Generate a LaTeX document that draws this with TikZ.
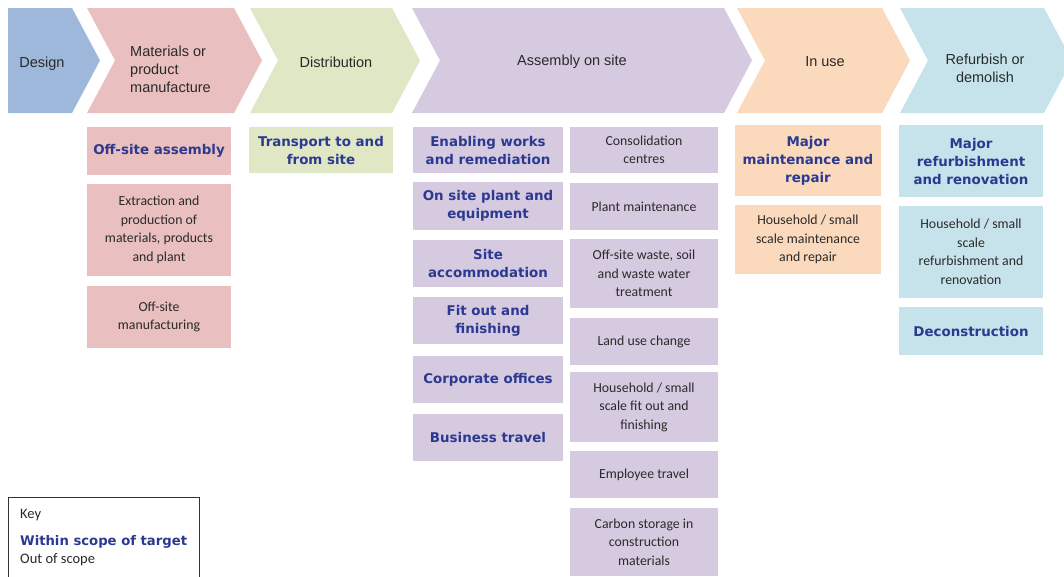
\documentclass[tikz,border=0pt]{standalone}
\usepackage{fontspec}
\setmainfont{Liberation Sans}
\newfontfamily\boldfont{DejaVu Sans}
\newfontfamily\gillfont{Carlito}
\definecolor{cBlue}{HTML}{9DB8DB}
\definecolor{cPink}{HTML}{EABFBF}
\definecolor{cGreen}{HTML}{DFE7C5}
\definecolor{cPurple}{HTML}{D6CAE1}
\definecolor{cOrange}{HTML}{FAD9BC}
\definecolor{cLight}{HTML}{C6E3EB}
\definecolor{tBlue}{HTML}{2B3990}
\definecolor{tGray}{HTML}{2A2A2A}
\tikzset{
  chevtext/.style={text=tGray, font=\fontsize{14.5}{18}\selectfont, inner sep=0pt},
  inbox/.style={align=center, inner sep=0pt, text=tBlue, font=\boldfont\bfseries\fontsize{13.4}{18}\selectfont},
  outbox/.style={align=center, inner sep=0pt, text=tGray, font=\gillfont\fontsize{13.8}{18.5}\selectfont},
}
% \bx{name}{cx}{cy}{w}{h}{fill}{kind}{text}
\newcommand{\bx}[8]{%
  \fill[#6] ({#2-#4/2},{#3-#5/2}) rectangle ({#2+#4/2},{#3+#5/2});
  \node[#7] (#1) at (#2,#3) {#8};}
\newcommand{\chev}[4]{% left, right-shoulder, tip x, colour
  \fill[#4] (#1,8) -- (#2,8) -- (#3,60.5) -- (#2,113) -- (#1,113) -- ({#1+28},60.5) -- cycle;}
\begin{document}
\begin{tikzpicture}[x=1pt,y=-1pt]
\useasboundingbox (0,0) rectangle (1064,576);
\clip (0,0) rectangle (1064,576);
\fill[white] (0,0) rectangle (1064,576);
% chevrons
\fill[cBlue] (8,8) -- (72,8) -- (100,60.5) -- (72,113) -- (8,113) -- cycle;
\chev{87}{234}{262}{cPink}
\chev{250}{392}{420}{cGreen}
\chev{412}{724}{752}{cPurple}
\chev{737}{882}{910}{cOrange}
\chev{900}{1044}{1072}{cLight}
\node[chevtext] (design) at (42,64) {Design};
\node[chevtext, anchor=west, align=left] (materials) at (130,69) {Materials or\\product\\manufacture};
\node[chevtext] (distribution) at (336,62) {Distribution};
\node[chevtext] (assembly) at (572,62) {Assembly on site};
\node[chevtext] (inuse) at (825,62) {In use};
\node[chevtext, align=center] (refurbish) at (985,68) {Refurbish or\\demolish};
% pink column
\bx{offsiteasm}{159}{151}{144}{48}{cPink}{inbox}{Off-site assembly}
\bx{extraction}{159}{230}{144}{92}{cPink}{outbox}{Extraction and\\production of\\materials, products\\and plant}
\bx{offsiteman}{159}{317}{144}{62}{cPink}{outbox}{Off-site\\manufacturing}
% green
\bx{transport}{321}{150}{144}{46}{cGreen}{inbox}{Transport to and\\from site}
% purple left
\bx{enabling}{488}{150}{150}{46}{cPurple}{inbox}{Enabling works\\and remediation}
\bx{onsite}{488}{206}{150}{48}{cPurple}{inbox}{On site plant and\\equipment}
\bx{siteacc}{488}{263.5}{150}{47}{cPurple}{inbox}{Site\\accommodation}
\bx{fitout}{488}{320.5}{150}{47}{cPurple}{inbox}{Fit out and\\finishing}
\bx{corporate}{488}{379.5}{150}{47}{cPurple}{inbox}{Corporate offices}
\bx{business}{488}{437.5}{150}{47}{cPurple}{inbox}{Business travel}
% purple right
\bx{consolidation}{644}{150}{148}{46}{cPurple}{outbox}{Consolidation\\centres}
\bx{plantmaint}{644}{206.5}{148}{47}{cPurple}{outbox}{Plant maintenance}
\bx{waste}{644}{273.5}{148}{69}{cPurple}{outbox}{Off-site waste, soil\\and waste water\\treatment}
\bx{landuse}{644}{341.5}{148}{47}{cPurple}{outbox}{Land use change}
\bx{hhfitout}{644}{407}{148}{70}{cPurple}{outbox}{Household / small\\scale fit out and\\finishing}
\bx{employee}{644}{474.5}{148}{47}{cPurple}{outbox}{Employee travel}
\bx{carbon}{644}{542}{148}{68}{cPurple}{outbox}{Carbon storage in\\construction\\materials}
% orange
\bx{majormaint}{808}{160.5}{146}{71}{cOrange}{inbox}{Major\\maintenance and\\repair}
\bx{hhmaint}{808}{239.5}{146}{69}{cOrange}{outbox}{Household / small\\scale maintenance\\and repair}
% light blue
\bx{majorrefurb}{971}{161}{144}{72}{cLight}{inbox}{Major\\refurbishment\\and renovation}
\bx{hhrefurb}{971}{252}{144}{92}{cLight}{outbox}{Household / small\\scale\\refurbishment and\\renovation}
\bx{decon}{971}{331}{144}{48}{cLight}{inbox}{Deconstruction}
% key
\draw[line width=0.8pt, black!80] (8,497) rectangle (199,590);
\node[anchor=west, inner sep=0pt, text=tGray, font=\gillfont\fontsize{14.5}{15}\selectfont] (key) at (20,515) {Key};
\node[anchor=west, inner sep=0pt, text=tBlue, font=\boldfont\bfseries\fontsize{13.2}{14}\selectfont] (within) at (20,542) {Within scope of target};
\node[anchor=west, inner sep=0pt, text=tGray, font=\gillfont\fontsize{14.5}{15}\selectfont] (outscope) at (20,560) {Out of scope};
\end{tikzpicture}
\end{document}
